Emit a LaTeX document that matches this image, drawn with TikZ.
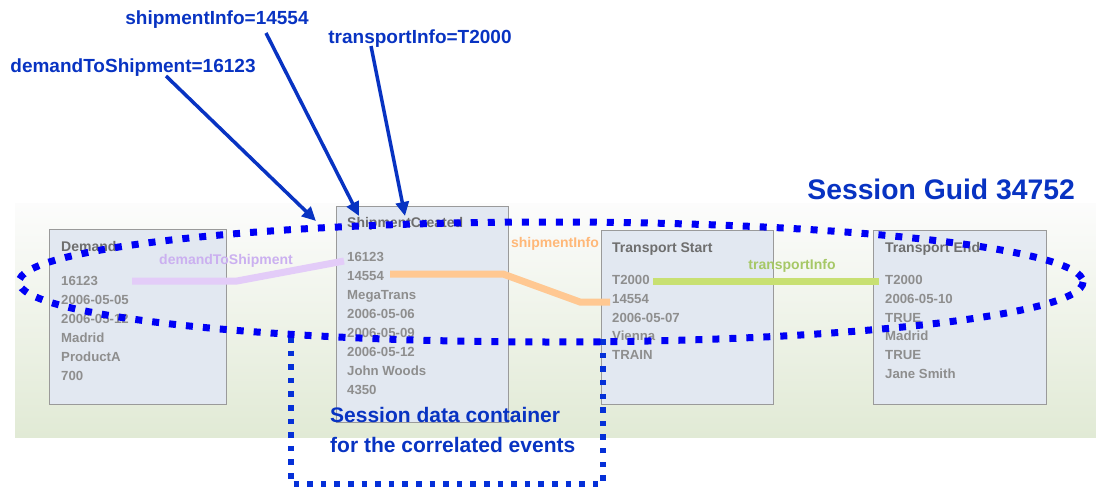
\documentclass[tikz,border=0pt]{standalone}
\usepackage{fontspec}
\setmainfont{Liberation Sans}
\usetikzlibrary{arrows.meta,calc}

\definecolor{callblue}{HTML}{0833C2}
\definecolor{dotblue}{HTML}{0000F5}
\definecolor{boxblue}{HTML}{0530D8}
\definecolor{boxfill}{HTML}{E2E8F1}
\definecolor{boxedge}{HTML}{9A9A9A}
\definecolor{titlegrey}{HTML}{6E6E6E}
\definecolor{valgrey}{HTML}{8E8E8E}
\definecolor{bandtop}{HTML}{FCFCFC}
\definecolor{bandbot}{HTML}{E1EAD5}
\definecolor{lavline}{HTML}{E3CCF8}
\definecolor{lavtext}{HTML}{CBB0F0}
\definecolor{orgline}{HTML}{FFC892}
\definecolor{orgtext}{HTML}{FFB878}
\definecolor{grnline}{HTML}{C8E072}
\definecolor{grntext}{HTML}{A6C866}

\begin{document}
\begin{tikzpicture}[x=1pt,y=-1pt,
  evbox/.style={draw=boxedge, line width=1.4pt, fill=boxfill, anchor=north west, inner sep=0pt},
  ttl/.style={anchor=base west, inner sep=0pt, text=titlegrey, font=\bfseries\fontsize{14}{16}\selectfont},
  val/.style={anchor=base west, inner sep=0pt, text=valgrey, font=\bfseries\fontsize{13.2}{15}\selectfont},
  link/.style={line width=7pt, line join=miter},
  linklabel/.style={anchor=base, inner sep=0pt, font=\bfseries\fontsize{14}{16}\selectfont},
  calllabel/.style={anchor=base, inner sep=0pt, text=callblue, font=\bfseries\fontsize{19}{21}\selectfont},
  callout/.style={draw=callblue, line width=3.5pt, -{Triangle[length=14pt,width=13pt]}},
  bluetext/.style={anchor=base west, inner sep=0pt, text=callblue, font=\bfseries\fontsize{21}{24}\selectfont}
]
\useasboundingbox (0,0) rectangle (1096,490);

% shaded band behind the events
\shade[top color=bandtop, bottom color=bandbot] (15,203) rectangle (1096,437);

% event boxes
\node[evbox, minimum width=177pt, minimum height=175pt] (demand) at (49,229) {};
\node[evbox, minimum width=172pt, minimum height=216pt] (shipment) at (336,206) {};
\node[evbox, minimum width=172pt, minimum height=174pt] (tstart) at (601,230) {};
\node[evbox, minimum width=173pt, minimum height=174pt] (tend) at (873,230) {};

% event titles
\node[ttl] (demand-t) at ($(demand.north west)+(12,22)$) {Demand};
\node[ttl] (shipment-t) at ($(shipment.north west)+(11,21)$) {ShipmentCreated};
\node[ttl] (tstart-t) at ($(tstart.north west)+(11,22)$) {Transport Start};
\node[ttl] (tend-t) at ($(tend.north west)+(12,22)$) {Transport End};

% event attribute values
\foreach \t [count=\i] in {16123,2006-05-05,2006-05-12,Madrid,ProductA,700}
  \node[val] (demand-\i) at ($(demand.north west)+(12,{56.5+19*(\i-1)})$) {\t};
\foreach \t [count=\i] in {16123,14554,MegaTrans,2006-05-06,2006-05-09,2006-05-12,John Woods,4350}
  \node[val] (shipment-\i) at ($(shipment.north west)+(11,{55.5+19*(\i-1)})$) {\t};
\foreach \t [count=\i] in {T2000,14554,2006-05-07,Vienna,TRAIN}
  \node[val] (tstart-\i) at ($(tstart.north west)+(11,{54.5+18.8*(\i-1)})$) {\t};
\foreach \t [count=\i] in {T2000,2006-05-10,TRUE,Madrid,TRUE,Jane Smith}
  \node[val] (tend-\i) at ($(tend.north west)+(12,{54.5+18.8*(\i-1)})$) {\t};

% correlation links between the events
\coordinate (dts-a) at (132,281);
\coordinate (dts-b) at (237,281);
\coordinate (dts-c) at (344,261);
\draw[link, lavline] (dts-a) -- (dts-b) -- (dts-c);
\node[linklabel, text=lavtext] (dts-l) at (226,264) {demandToShipment};

\coordinate (si-a) at (390,274);
\coordinate (si-b) at (503,274);
\coordinate (si-c) at (580,302);
\coordinate (si-d) at (610,302);
\draw[link, orgline] (si-a) -- (si-b) -- (si-c) -- (si-d);
\node[linklabel, text=orgtext] (si-l) at (555,247) {shipmentInfo};

\coordinate (ti-a) at (653,281);
\coordinate (ti-b) at (879,281);
\draw[link, grnline] (ti-a) -- (ti-b);
\node[linklabel, text=grntext] (ti-l) at (792,269) {transportInfo};

% session data container
\coordinate (sc-a) at (291,337);
\coordinate (sc-b) at (291,484);
\coordinate (sc-c) at (603,484);
\coordinate (sc-d) at (603,338);
\draw[boxblue, line width=5.5pt, dash pattern=on 5.5pt off 8.1pt] (sc-a) -- (sc-b) -- (sc-c) -- (sc-d);
\node[bluetext] (sc-l1) at (330,422.5) {Session data container};
\node[bluetext] (sc-l2) at (330,452.5) {for the correlated events};

% session boundary
\node[inner sep=0pt, anchor=base east, text=callblue, font=\bfseries\fontsize{28.3}{30}\selectfont] (guid) at (1075,199) {Session Guid 34752};
\draw[dotblue, line width=7pt, dash pattern=on 7pt off 10pt] (551,282) ellipse [x radius=532, y radius=60];

% correlation attribute callouts
\node[calllabel] (cl-si) at (217,24) {shipmentInfo=14554};
\node[calllabel] (cl-ti) at (420,43) {transportInfo=T2000};
\node[calllabel] (cl-dts) at (133,72) {demandToShipment=16123};
\coordinate (cl-dts-s) at (166,76);
\coordinate (cl-dts-e) at (316,221);
\coordinate (cl-si-s) at (266,33);
\coordinate (cl-si-e) at (359,216);
\coordinate (cl-ti-s) at (371,46);
\coordinate (cl-ti-e) at (405,216);
\draw[callout] (cl-dts-s) -- (cl-dts-e);
\draw[callout] (cl-si-s) -- (cl-si-e);
\draw[callout] (cl-ti-s) -- (cl-ti-e);
\end{tikzpicture}
\end{document}
